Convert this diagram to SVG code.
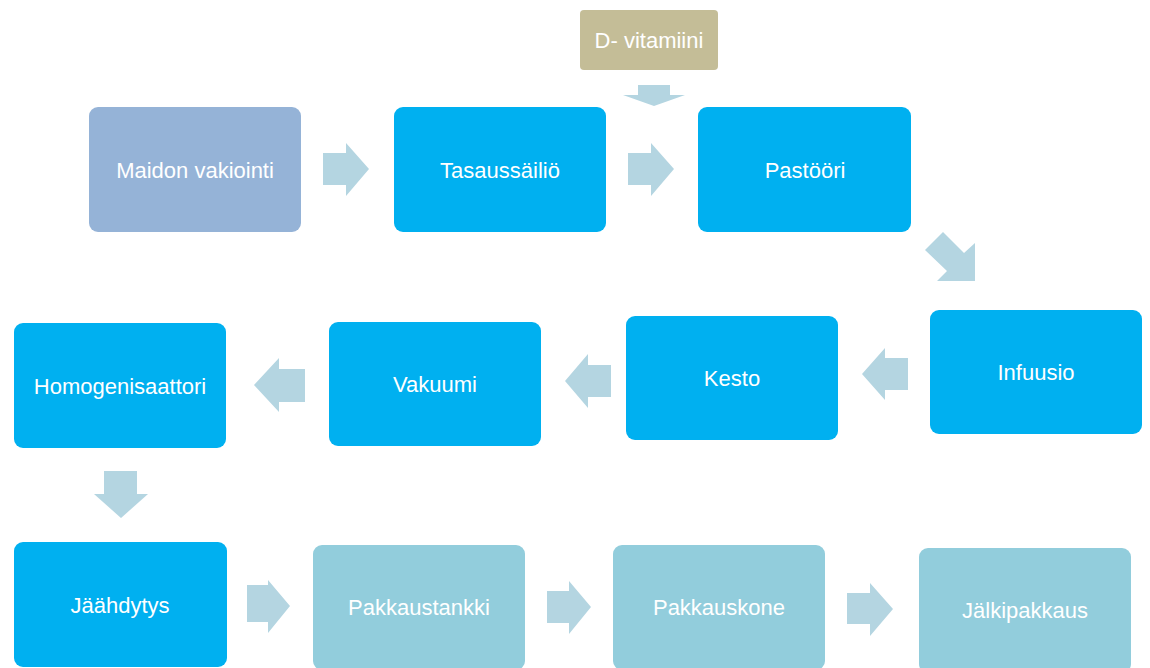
<svg xmlns="http://www.w3.org/2000/svg" width="1150" height="668" viewBox="0 0 1150 668">
<style>
.box{stroke:none}
.b{fill:#00B0F0}
.l{fill:#92CDDC}
.m{fill:#95B3D7}
.d{fill:#C4BD97}
.t{font-family:"Liberation Sans",Arial,sans-serif;font-size:22px;fill:#FFFFFF;text-anchor:middle;dominant-baseline:central}
.a{fill:#B4D5E1;stroke:none}
</style>
<rect width="1150" height="668" fill="#FFFFFF"/>
<g id="connectors">
<polygon class="a" points="638,85 670,85 670,95 685,95 654,106 623,95 638,95"/>
<polygon class="a" points="323,153 346,153 346,143 369,169 346,196 346,185 323,185"/>
<polygon class="a" points="628,153 651,153 651,143 674,169 651,196 651,185 628,185"/>
<polygon class="a" points="943,232 964,253 975,243 975,281 937,281 947,271 925,250"/>
<polygon class="a" points="908,358 885,358 885,348 862,374 885,400 885,390 908,390"/>
<polygon class="a" points="611,365 588,365 588,354 565,381 588,408 588,397 611,397"/>
<polygon class="a" points="305,369 279,369 279,358 254,385 279,412 279,402 305,402"/>
<polygon class="a" points="104,471 137,471 137,494 148,494 121,518 94,494 104,494"/>
<polygon class="a" points="247,585 268,585 268,580 290,606 268,633 268,622 247,622"/>
<polygon class="a" points="547,591 569,591 569,581 591,607 569,634 569,623 547,623"/>
<polygon class="a" points="847,593 870,593 870,583 893,609 870,636 870,624 847,624"/>
</g>
<g id="n-dvitamiini"><rect class="box d" x="580" y="10" width="138" height="60" rx="4"/><text class="t" x="649" y="40">D- vitamiini</text></g>
<g id="n-maidon"><rect class="box m" x="89" y="107" width="212" height="125" rx="9"/><text class="t" x="195" y="170">Maidon vakiointi</text></g>
<g id="n-tasaus"><rect class="box b" x="394" y="107" width="212" height="125" rx="9"/><text class="t" x="500" y="170">Tasaussäiliö</text></g>
<g id="n-pastoori"><rect class="box b" x="698" y="107" width="213" height="125" rx="9"/><text class="t" x="805" y="170">Pastööri</text></g>
<g id="n-infuusio"><rect class="box b" x="930" y="310" width="212" height="124" rx="9"/><text class="t" x="1036" y="372">Infuusio</text></g>
<g id="n-kesto"><rect class="box b" x="626" y="316" width="212" height="124" rx="9"/><text class="t" x="732" y="378">Kesto</text></g>
<g id="n-vakuumi"><rect class="box b" x="329" y="322" width="212" height="124" rx="9"/><text class="t" x="435" y="384">Vakuumi</text></g>
<g id="n-homog"><rect class="box b" x="14" y="323" width="212" height="125" rx="9"/><text class="t" x="120" y="386">Homogenisaattori</text></g>
<g id="n-jaahdytys"><rect class="box b" x="14" y="542" width="213" height="125" rx="9"/><text class="t" x="120" y="605">Jäähdytys</text></g>
<g id="n-pakkaustankki"><rect class="box l" x="313" y="545" width="212" height="125" rx="9"/><text class="t" x="419" y="607">Pakkaustankki</text></g>
<g id="n-pakkauskone"><rect class="box l" x="613" y="545" width="212" height="125" rx="9"/><text class="t" x="719" y="607">Pakkauskone</text></g>
<g id="n-jalkipakkaus"><rect class="box l" x="919" y="548" width="212" height="125" rx="9"/><text class="t" x="1025" y="610">Jälkipakkaus</text></g>
</svg>
